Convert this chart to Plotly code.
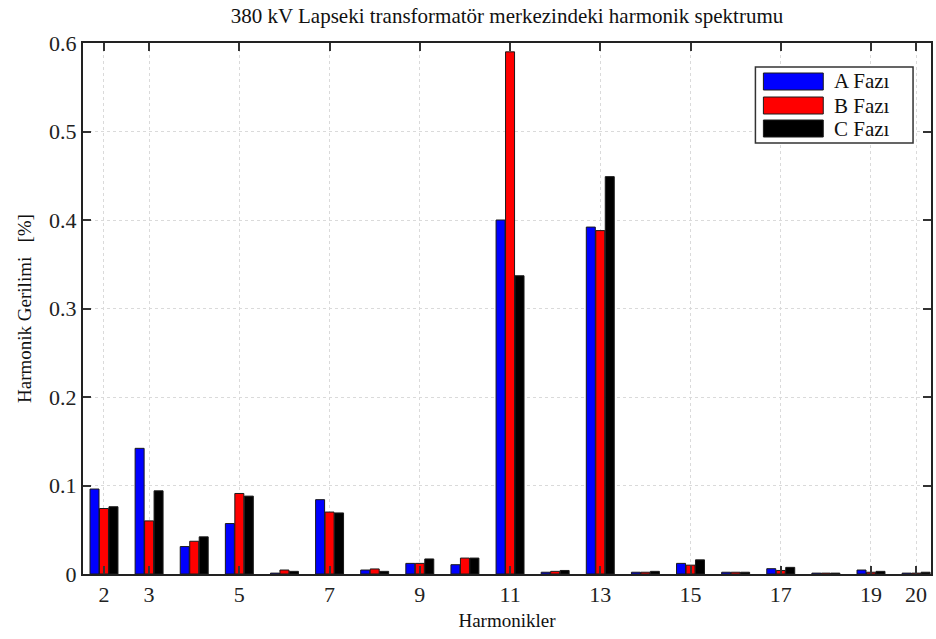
import plotly.graph_objects as go

# Harmonic orders and measured harmonic voltage (%) per phase
harmonics = list(range(2, 21))
faz_a = [0.096, 0.142, 0.031, 0.057, 0.001, 0.084, 0.0045, 0.012, 0.0105, 0.400,
         0.002, 0.392, 0.002, 0.012, 0.002, 0.006, 0.001, 0.0045, 0.001]
faz_b = [0.074, 0.060, 0.037, 0.091, 0.0045, 0.070, 0.0057, 0.012, 0.018, 0.590,
         0.003, 0.388, 0.002, 0.010, 0.002, 0.004, 0.001, 0.002, 0.001]
faz_c = [0.076, 0.094, 0.042, 0.088, 0.003, 0.069, 0.003, 0.017, 0.018, 0.337,
         0.004, 0.449, 0.003, 0.016, 0.002, 0.0075, 0.001, 0.003, 0.002]

series_names = ["A Fazı", "B Fazı", "C Fazı"]
series_colors = ["#0000ff", "#ff0000", "#000000"]

x_tickvals = [2, 3, 5, 7, 9, 11, 13, 15, 17, 19, 20]
y_tickvals = [0, 0.1, 0.2, 0.3, 0.4, 0.5, 0.6]
y_ticktext = ["0", "0.1", "0.2", "0.3", "0.4", "0.5", "0.6"]

FONT = "Liberation Serif"

fig = go.Figure()
for name, vals, col in zip(series_names, [faz_a, faz_b, faz_c], series_colors):
    fig.add_trace(go.Bar(
        x=harmonics, y=vals, name=name,
        marker=dict(color=col, line=dict(color="#1a1a1a", width=1)),
        showlegend=False,
    ))

axis_common = dict(
    showline=True, linecolor="#222222", linewidth=2, mirror="ticks",
    ticks="inside", ticklen=8, tickwidth=2, tickcolor="#333333",
    showgrid=True, gridcolor="#dadada", griddash="dot", gridwidth=1,
    zeroline=False, tickfont=dict(family=FONT, size=22, color="#222222"),
)

fig.update_layout(
    width=936, height=639,
    margin=dict(l=83, r=3, t=43, b=65),
    paper_bgcolor="white", plot_bgcolor="white",
    barmode="group", bargap=0.37, bargroupgap=0.05,
    font=dict(family=FONT),
    title=dict(text="380 kV Lapseki transformatör merkezindeki harmonik spektrumu",
               x=0.5, xref="paper", y=0.987, yanchor="top",
               font=dict(family=FONT, size=21, color="#111111")),
    xaxis=dict(range=[1.535, 20.33], tickvals=x_tickvals,
               title=dict(text="Harmonikler", standoff=7,
                          font=dict(family=FONT, size=19, color="#111111")),
               **axis_common),
    yaxis=dict(range=[0, 0.6], tickvals=y_tickvals, ticktext=y_ticktext,
               title=dict(text="Harmonik Gerilimi &nbsp; [%]", standoff=12,
                          font=dict(family=FONT, size=19, color="#111111")),
               **axis_common),
)

# Boxed legend with wide colour swatches
def px_x(p):
    return (p - 83) / 850.0

def px_y(p):
    return (574 - p) / 531.0

fig.add_shape(type="rect", xref="paper", yref="paper",
              x0=px_x(757), x1=px_x(915), y0=px_y(143), y1=px_y(67),
              line=dict(color="#333333", width=1.5), fillcolor="white", layer="above")
row_tops = [73, 97, 120]
for name, col, top in zip(series_names, series_colors, row_tops):
    fig.add_shape(type="rect", xref="paper", yref="paper",
                  x0=px_x(765), x1=px_x(825), y0=px_y(top + 17), y1=px_y(top),
                  line=dict(color="#1a1a1a", width=1), fillcolor=col, layer="above")
    fig.add_annotation(xref="paper", yref="paper", x=px_x(834), y=px_y(top + 8.5),
                       text=name, showarrow=False, xanchor="left", yanchor="middle",
                       font=dict(family=FONT, size=21, color="#111111"))

fig.write_html("out.html")
